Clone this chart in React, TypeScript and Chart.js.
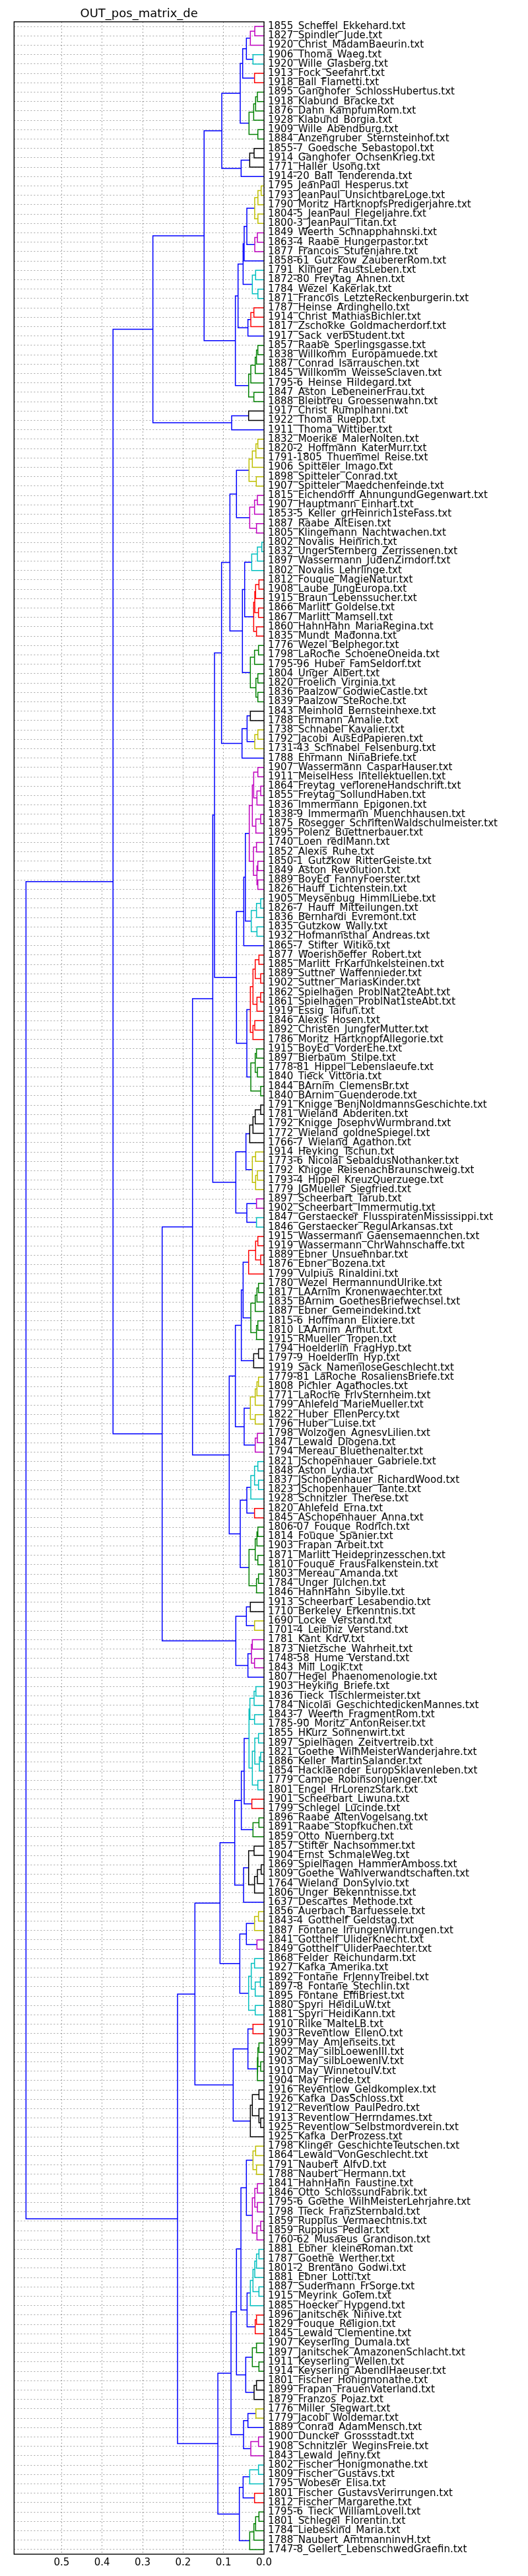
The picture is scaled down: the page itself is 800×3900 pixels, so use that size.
import React, { useEffect, useRef } from "react";
import { Chart, registerables } from "chart.js";

Chart.register(...registerables);

const chartTitle = "OUT_pos_matrix_de";

// leaves, top to bottom
const leafLabels: string[] = [
  "1855_Scheffel_Ekkehard.txt",
  "1827_Spindler_Jude.txt",
  "1920_Christ_MadamBaeurin.txt",
  "1906_Thoma_Waeg.txt",
  "1920_Wille_Glasberg.txt",
  "1913_Fock_Seefahrt.txt",
  "1918_Ball_Flametti.txt",
  "1895_Ganghofer_SchlossHubertus.txt",
  "1918_Klabund_Bracke.txt",
  "1876_Dahn_KampfumRom.txt",
  "1928_Klabund_Borgia.txt",
  "1909_Wille_Abendburg.txt",
  "1884_Anzengruber_Sternsteinhof.txt",
  "1855-7_Goedsche_Sebastopol.txt",
  "1914_Ganghofer_OchsenKrieg.txt",
  "1771_Haller_Usong.txt",
  "1914-20_Ball_Tenderenda.txt",
  "1795_JeanPaul_Hesperus.txt",
  "1793_JeanPaul_UnsichtbareLoge.txt",
  "1790_Moritz_HartknopfsPredigerjahre.txt",
  "1804-5_JeanPaul_Flegeljahre.txt",
  "1800-3_JeanPaul_Titan.txt",
  "1849_Weerth_Schnapphahnski.txt",
  "1863-4_Raabe_Hungerpastor.txt",
  "1877_Francois_Stufenjahre.txt",
  "1858-61_Gutzkow_ZaubererRom.txt",
  "1791_Klinger_FaustsLeben.txt",
  "1872-80_Freytag_Ahnen.txt",
  "1784_Wezel_Kakerlak.txt",
  "1871_Francois_LetzteReckenburgerin.txt",
  "1787_Heinse_Ardinghello.txt",
  "1914_Christ_MathiasBichler.txt",
  "1817_Zschokke_Goldmacherdorf.txt",
  "1917_Sack_verbStudent.txt",
  "1857_Raabe_Sperlingsgasse.txt",
  "1838_Willkomm_Europamuede.txt",
  "1887_Conrad_Isarrauschen.txt",
  "1845_Willkomm_WeisseSclaven.txt",
  "1795-6_Heinse_Hildegard.txt",
  "1847_Aston_LebeneinerFrau.txt",
  "1888_Bleibtreu_Groessenwahn.txt",
  "1917_Christ_Rumplhanni.txt",
  "1922_Thoma_Ruepp.txt",
  "1911_Thoma_Wittiber.txt",
  "1832_Moerike_MalerNolten.txt",
  "1820-2_Hoffmann_KaterMurr.txt",
  "1791-1805_Thuemmel_Reise.txt",
  "1906_Spitteler_Imago.txt",
  "1898_Spitteler_Conrad.txt",
  "1907_Spitteler_Maedchenfeinde.txt",
  "1815_Eichendorff_AhnungundGegenwart.txt",
  "1907_Hauptmann_Einhart.txt",
  "1853-5_Keller_grHeinrich1steFass.txt",
  "1887_Raabe_AltEisen.txt",
  "1805_Klingemann_Nachtwachen.txt",
  "1802_Novalis_Heinrich.txt",
  "1832_UngerSternberg_Zerrissenen.txt",
  "1897_Wassermann_JudenZirndorf.txt",
  "1802_Novalis_Lehrlinge.txt",
  "1812_Fouque_MagieNatur.txt",
  "1908_Laube_JungEuropa.txt",
  "1915_Braun_Lebenssucher.txt",
  "1866_Marlitt_Goldelse.txt",
  "1867_Marlitt_Mamsell.txt",
  "1860_HahnHahn_MariaRegina.txt",
  "1835_Mundt_Madonna.txt",
  "1776_Wezel_Belphegor.txt",
  "1798_LaRoche_SchoeneOneida.txt",
  "1795-96_Huber_FamSeldorf.txt",
  "1804_Unger_Albert.txt",
  "1820_Froelich_Virginia.txt",
  "1836_Paalzow_GodwieCastle.txt",
  "1839_Paalzow_SteRoche.txt",
  "1843_Meinhold_Bernsteinhexe.txt",
  "1788_Ehrmann_Amalie.txt",
  "1738_Schnabel_Kavalier.txt",
  "1792_Jacobi_AusEdPapieren.txt",
  "1731-43_Schnabel_Felsenburg.txt",
  "1788_Ehrmann_NinaBriefe.txt",
  "1907_Wassermann_CasparHauser.txt",
  "1911_MeiselHess_Intellektuellen.txt",
  "1864_Freytag_verloreneHandschrift.txt",
  "1855_Freytag_SollundHaben.txt",
  "1836_Immermann_Epigonen.txt",
  "1838-9_Immermann_Muenchhausen.txt",
  "1875_Rosegger_SchriftenWaldschulmeister.txt",
  "1895_Polenz_Buettnerbauer.txt",
  "1740_Loen_redlMann.txt",
  "1852_Alexis_Ruhe.txt",
  "1850-1_Gutzkow_RitterGeiste.txt",
  "1849_Aston_Revolution.txt",
  "1889_BoyEd_FannyFoerster.txt",
  "1826_Hauff_Lichtenstein.txt",
  "1905_Meysenbug_HimmlLiebe.txt",
  "1826-7_Hauff_Mitteilungen.txt",
  "1836_Bernhardi_Evremont.txt",
  "1835_Gutzkow_Wally.txt",
  "1932_Hofmannsthal_Andreas.txt",
  "1865-7_Stifter_Witiko.txt",
  "1877_Woerishoeffer_Robert.txt",
  "1885_Marlitt_FrKarfunkelsteinen.txt",
  "1889_Suttner_Waffennieder.txt",
  "1902_Suttner_MariasKinder.txt",
  "1862_Spielhagen_ProblNat2teAbt.txt",
  "1861_Spielhagen_ProblNat1steAbt.txt",
  "1919_Essig_Taifun.txt",
  "1846_Alexis_Hosen.txt",
  "1892_Christen_JungferMutter.txt",
  "1786_Moritz_HartknopfAllegorie.txt",
  "1915_BoyEd_VorderEhe.txt",
  "1897_Bierbaum_Stilpe.txt",
  "1778-81_Hippel_Lebenslaeufe.txt",
  "1840_Tieck_Vittoria.txt",
  "1844_BArnim_ClemensBr.txt",
  "1840_BArnim_Guenderode.txt",
  "1791_Knigge_BenjNoldmannsGeschichte.txt",
  "1781_Wieland_Abderiten.txt",
  "1792_Knigge_JosephvWurmbrand.txt",
  "1772_Wieland_goldneSpiegel.txt",
  "1766-7_Wieland_Agathon.txt",
  "1914_Heyking_Tschun.txt",
  "1773-6_Nicolai_SebaldusNothanker.txt",
  "1792_Knigge_ReisenachBraunschweig.txt",
  "1793-4_Hippel_KreuzQuerzuege.txt",
  "1779_JGMueller_Siegfried.txt",
  "1897_Scheerbart_Tarub.txt",
  "1902_Scheerbart_Immermutig.txt",
  "1847_Gerstaecker_FlusspiratenMississippi.txt",
  "1846_Gerstaecker_RegulArkansas.txt",
  "1915_Wassermann_Gaensemaennchen.txt",
  "1919_Wassermann_ChrWahnschaffe.txt",
  "1889_Ebner_Unsuehnbar.txt",
  "1876_Ebner_Bozena.txt",
  "1799_Vulpius_Rinaldini.txt",
  "1780_Wezel_HermannundUlrike.txt",
  "1817_LAArnim_Kronenwaechter.txt",
  "1835_BArnim_GoethesBriefwechsel.txt",
  "1887_Ebner_Gemeindekind.txt",
  "1815-6_Hoffmann_Elixiere.txt",
  "1810_LAArnim_Armut.txt",
  "1915_RMueller_Tropen.txt",
  "1794_Hoelderlin_FragHyp.txt",
  "1797-9_Hoelderlin_Hyp.txt",
  "1919_Sack_NamenloseGeschlecht.txt",
  "1779-81_LaRoche_RosaliensBriefe.txt",
  "1808_Pichler_Agathocles.txt",
  "1771_LaRoche_FrlvSternheim.txt",
  "1799_Ahlefeld_MarieMueller.txt",
  "1822_Huber_EllenPercy.txt",
  "1796_Huber_Luise.txt",
  "1798_Wolzogen_AgnesvLilien.txt",
  "1847_Lewald_Diogena.txt",
  "1794_Mereau_Bluethenalter.txt",
  "1821_JSchopenhauer_Gabriele.txt",
  "1848_Aston_Lydia.txt",
  "1837_JSchopenhauer_RichardWood.txt",
  "1823_JSchopenhauer_Tante.txt",
  "1928_Schnitzler_Therese.txt",
  "1820_Ahlefeld_Erna.txt",
  "1845_ASchopenhauer_Anna.txt",
  "1806-07_Fouque_Rodrich.txt",
  "1814_Fouque_Spanier.txt",
  "1903_Frapan_Arbeit.txt",
  "1871_Marlitt_Heideprinzesschen.txt",
  "1810_Fouque_FrausFalkenstein.txt",
  "1803_Mereau_Amanda.txt",
  "1784_Unger_Julchen.txt",
  "1846_HahnHahn_Sibylle.txt",
  "1913_Scheerbart_Lesabendio.txt",
  "1710_Berkeley_Erkenntnis.txt",
  "1690_Locke_Verstand.txt",
  "1701-4_Leibniz_Verstand.txt",
  "1781_Kant_KdrV.txt",
  "1873_Nietzsche_Wahrheit.txt",
  "1748-58_Hume_Verstand.txt",
  "1843_Mill_Logik.txt",
  "1807_Hegel_Phaenomenologie.txt",
  "1903_Heyking_Briefe.txt",
  "1836_Tieck_Tischlermeister.txt",
  "1784_Nicolai_GeschichtedickenMannes.txt",
  "1843-7_Weerth_FragmentRom.txt",
  "1785-90_Moritz_AntonReiser.txt",
  "1855_HKurz_Sonnenwirt.txt",
  "1897_Spielhagen_Zeitvertreib.txt",
  "1821_Goethe_WilhMeisterWanderjahre.txt",
  "1886_Keller_MartinSalander.txt",
  "1854_Hacklaender_EuropSklavenleben.txt",
  "1779_Campe_RobinsonJuenger.txt",
  "1801_Engel_HrLorenzStark.txt",
  "1901_Scheerbart_Liwuna.txt",
  "1799_Schlegel_Lucinde.txt",
  "1896_Raabe_AltenVogelsang.txt",
  "1891_Raabe_Stopfkuchen.txt",
  "1859_Otto_Nuernberg.txt",
  "1857_Stifter_Nachsommer.txt",
  "1904_Ernst_SchmaleWeg.txt",
  "1869_Spielhagen_HammerAmboss.txt",
  "1809_Goethe_Wahlverwandtschaften.txt",
  "1764_Wieland_DonSylvio.txt",
  "1806_Unger_Bekenntnisse.txt",
  "1637_Descartes_Methode.txt",
  "1856_Auerbach_Barfuessele.txt",
  "1843-4_Gotthelf_Geldstag.txt",
  "1887_Fontane_IrrungenWirrungen.txt",
  "1841_Gotthelf_UliderKnecht.txt",
  "1849_Gotthelf_UliderPaechter.txt",
  "1868_Felder_Reichundarm.txt",
  "1927_Kafka_Amerika.txt",
  "1892_Fontane_FrJennyTreibel.txt",
  "1897-8_Fontane_Stechlin.txt",
  "1895_Fontane_EffiBriest.txt",
  "1880_Spyri_HeidiLuW.txt",
  "1881_Spyri_HeidiKann.txt",
  "1910_Rilke_MalteLB.txt",
  "1903_Reventlow_EllenO.txt",
  "1899_May_AmJenseits.txt",
  "1902_May_silbLoewenIII.txt",
  "1903_May_silbLoewenIV.txt",
  "1910_May_WinnetouIV.txt",
  "1904_May_Friede.txt",
  "1916_Reventlow_Geldkomplex.txt",
  "1926_Kafka_DasSchloss.txt",
  "1912_Reventlow_PaulPedro.txt",
  "1913_Reventlow_Herrndames.txt",
  "1925_Reventlow_Selbstmordverein.txt",
  "1925_Kafka_DerProzess.txt",
  "1798_Klinger_GeschichteTeutschen.txt",
  "1864_Lewald_VonGeschlecht.txt",
  "1791_Naubert_AlfvD.txt",
  "1788_Naubert_Hermann.txt",
  "1841_HahnHahn_Faustine.txt",
  "1846_Otto_SchlossundFabrik.txt",
  "1795-6_Goethe_WilhMeisterLehrjahre.txt",
  "1798_Tieck_FranzSternbald.txt",
  "1859_Ruppius_Vermaechtnis.txt",
  "1859_Ruppius_Pedlar.txt",
  "1760-62_Musaeus_Grandison.txt",
  "1881_Ebner_kleineRoman.txt",
  "1787_Goethe_Werther.txt",
  "1801-2_Brentano_Godwi.txt",
  "1881_Ebner_Lotti.txt",
  "1887_Sudermann_FrSorge.txt",
  "1915_Meyrink_Golem.txt",
  "1885_Hoecker_Hypgend.txt",
  "1896_Janitschek_Ninive.txt",
  "1829_Fouque_Religion.txt",
  "1845_Lewald_Clementine.txt",
  "1907_Keyserling_Dumala.txt",
  "1897_Janitschek_AmazonenSchlacht.txt",
  "1911_Keyserling_Wellen.txt",
  "1914_Keyserling_AbendlHaeuser.txt",
  "1801_Fischer_Honigmonathe.txt",
  "1899_Frapan_FrauenVaterland.txt",
  "1879_Franzos_Pojaz.txt",
  "1776_Miller_Siegwart.txt",
  "1779_Jacobi_Woldemar.txt",
  "1889_Conrad_AdamMensch.txt",
  "1900_Duncker_Grossstadt.txt",
  "1908_Schnitzler_WeginsFreie.txt",
  "1843_Lewald_Jenny.txt",
  "1802_Fischer_Honigmonathe.txt",
  "1809_Fischer_Gustavs.txt",
  "1795_Wobeser_Elisa.txt",
  "1801_Fischer_GustavsVerirrungen.txt",
  "1812_Fischer_Margarethe.txt",
  "1795-6_Tieck_WilliamLovell.txt",
  "1801_Schlegel_Florentin.txt",
  "1784_Liebeskind_Maria.txt",
  "1788_Naubert_AmtmanninvH.txt",
  "1747-8_Gellert_LebenschwedGraefin.txt",
];

// merge height between each pair of neighbouring leaves (top to bottom)
const mergeGaps: number[] = [
  0.0228, 0.0337, 0.0435, 0.0272, 0.0527, 0.0234, 0.0587, 0.0163, 0.0207, 0.0255,
  0.037, 0.0152, 0.1043, 0.0245, 0.0353, 0.0565, 0.148, 0.007, 0.015, 0.023,
  0.015, 0.0424, 0.0163, 0.0228, 0.049, 0.0516, 0.0207, 0.0288, 0.015, 0.0641,
  0.025, 0.0326, 0.0397, 0.0707, 0.0152, 0.0185, 0.0217, 0.0326, 0.038, 0.025,
  0.2745, 0.038, 0.0799, 0.373, 0.0152, 0.02, 0.0288, 0.037, 0.019, 0.068,
  0.0163, 0.0234, 0.0353, 0.0185, 0.0842, 0.0054, 0.0163, 0.0304, 0.0478, 0.0125,
  0.0207, 0.0228, 0.0136, 0.0255, 0.0185, 0.0533, 0.0136, 0.0234, 0.0337, 0.0152,
  0.02, 0.0152, 0.1049, 0.0337, 0.0418, 0.0152, 0.0228, 0.0543, 0.1223, 0.0152,
  0.0255, 0.0082, 0.0174, 0.0288, 0.0082, 0.0201, 0.0364, 0.0185, 0.026, 0.0152,
  0.0174, 0.0152, 0.046, 0.0082, 0.0185, 0.0315, 0.0174, 0.05, 0.068, 0.0125,
  0.0217, 0.0082, 0.0272, 0.0082, 0.0174, 0.0337, 0.0228, 0.0272, 0.0424, 0.0185,
  0.0217, 0.0163, 0.0326, 0.0082, 0.1266, 0.0082, 0.0217, 0.0272, 0.0353, 0.0446,
  0.0207, 0.0288, 0.0163, 0.0207, 0.0696, 0.0185, 0.0424, 0.0185, 0.1766, 0.0152,
  0.0207, 0.0082, 0.038, 0.0516, 0.0136, 0.0174, 0.0217, 0.0326, 0.0152, 0.0185,
  0.056, 0.0136, 0.0255, 0.0707, 0.0136, 0.0174, 0.0217, 0.0337, 0.0217, 0.049,
  0.0163, 0.0217, 0.0859, 0.0152, 0.0234, 0.0136, 0.0326, 0.0424, 0.0234, 0.0587,
  0.0152, 0.0174, 0.0217, 0.0152, 0.037, 0.0136, 0.0185, 0.2516, 0.0337, 0.0435,
  0.0234, 0.0696, 0.0288, 0.031, 0.0234, 0.0397, 0.588, 0.02, 0.0245, 0.0348,
  0.0234, 0.037, 0.0136, 0.0228, 0.0082, 0.0114, 0.0288, 0.0152, 0.049, 0.03,
  0.056, 0.0125, 0.0272, 0.0723, 0.0245, 0.038, 0.007, 0.0163, 0.0234, 0.0505,
  0.1087, 0.0136, 0.0234, 0.0435, 0.0174, 0.0598, 0.0234, 0.0315, 0.009, 0.0217,
  0.038, 0.0217, 0.1707, 0.0272, 0.0397, 0.0125, 0.0152, 0.0082, 0.0163, 0.0761,
  0.0125, 0.0288, 0.0125, 0.0082, 0.0337, 0.2136, 0.0207, 0.0272, 0.0185, 0.0435,
  0.0163, 0.0228, 0.0163, 0.0288, 0.0082, 0.0174, 0.057, 0.0125, 0.0185, 0.0228,
  0.0272, 0.0125, 0.0337, 0.0418, 0.0185, 0.0217, 0.068, 0.0185, 0.0288, 0.0125,
  0.0451, 0.0185, 0.0245, 0.0815, 0.02, 0.0397, 0.0505, 0.0136, 0.0326, 0.114,
  0.0136, 0.0353, 0.0516, 0.0234, 0.0609, 0.0125, 0.0207, 0.025, 0.0353,
];

const xTickValues: number[] = [0, 0.1, 0.2, 0.3, 0.4, 0.5];
const colorThreshold = 0.039;
const clusterPalette: string[] = ["#008000", "#ff0000", "#00bfbf", "#bf00bf", "#bfbf00", "#000000"];
const aboveThresholdColor = "#0000ff";

type TreeNode = { y: number; h: number; a?: TreeNode; b?: TreeNode };

function buildTree(l: number, r: number): TreeNode {
  if (l === r) return { y: 5 + 10 * l, h: 0 };
  let k = l;
  for (let i = l; i < r; i++) if (mergeGaps[i] > mergeGaps[k]) k = i;
  const a = buildTree(l, k);
  const b = buildTree(k + 1, r);
  return { y: (a.y + b.y) / 2, h: mergeGaps[k], a, b };
}

type Link = { pts: { x: number; y: number }[]; color: string };

function collectLinks(root: TreeNode): Link[] {
  const links: Link[] = [];
  let ci = 0;
  const visit = (n: TreeNode, inherited: string | null) => {
    if (!n.a || !n.b) return;
    let color = inherited;
    if (color === null && n.h < colorThreshold) {
      color = clusterPalette[ci % clusterPalette.length];
      ci++;
    }
    const c = n.h >= colorThreshold ? aboveThresholdColor : (color as string);
    visit(n.b, n.h >= colorThreshold ? null : color);
    visit(n.a, n.h >= colorThreshold ? null : color);
    links.push({
      pts: [
        { x: n.a.h, y: n.a.y },
        { x: n.h, y: n.a.y },
        { x: n.h, y: n.b.y },
        { x: n.b.h, y: n.b.y },
      ],
      color: c,
    });
  };
  visit(root, null);
  return links;
}

export default function App() {
  const ref = useRef<HTMLCanvasElement | null>(null);
  useEffect(() => {
    if (!ref.current) return;
    const N = leafLabels.length;
    const root = buildTree(0, N - 1);
    const links = collectLinks(root);
    const xMax = root.h * 1.05;
    const pxPerUnit = 613.3;
    const leftPad = 400 - xMax * pxPerUnit;
    const font = { family: "DejaVu Sans", size: 15 };

    const framePlugin = {
      id: "frameTitle",
      afterDraw(chart: any) {
        const { ctx, chartArea } = chart;
        ctx.save();
        ctx.strokeStyle = "#000";
        ctx.lineWidth = 1.4;
        ctx.strokeRect(chartArea.left, chartArea.top, chartArea.right - chartArea.left, chartArea.bottom - chartArea.top);
        ctx.fillStyle = "#000";
        ctx.font = "18px 'DejaVu Sans'";
        ctx.textAlign = "center";
        ctx.textBaseline = "alphabetic";
        ctx.fillText(chartTitle, (chartArea.left + chartArea.right) / 2, 26);
        ctx.restore();
      },
    };

    const chart = new Chart(ref.current, {
      type: "scatter",
      data: {
        datasets: links.map((lk) => ({
          data: lk.pts,
          showLine: true,
          borderColor: lk.color,
          backgroundColor: lk.color,
          borderWidth: 1.5,
          pointRadius: 0,
          fill: false,
          tension: 0,
        })),
      },
      options: {
        animation: false,
        responsive: false,
        events: [],
        layout: { padding: { left: leftPad, top: 33, right: 0, bottom: 0 } },
        plugins: { legend: { display: false }, tooltip: { enabled: false }, title: { display: false } },
        scales: {
          x: {
            type: "linear",
            reverse: true,
            min: 0,
            max: xMax,
            afterBuildTicks: (s: any) => {
              s.ticks = xTickValues.map((v) => ({ value: v }));
            },
            afterFit: (s: any) => {
              s.height = 33;
            },
            ticks: {
              font,
              color: "#000",
              padding: 4,
              maxRotation: 0,
              callback: (v: any) => Number(v).toFixed(1),
            },
            grid: { color: "rgba(0,0,0,0.35)", lineWidth: 1, drawTicks: false },
            border: { display: false, dash: [2, 3] },
          },
          y: {
            type: "linear",
            position: "right",
            reverse: true,
            min: 0,
            max: 10 * N,
            afterBuildTicks: (s: any) => {
              s.ticks = leafLabels.map((_, i) => ({ value: 5 + 10 * i }));
            },
            afterFit: (s: any) => {
              s.width = 400;
            },
            ticks: {
              autoSkip: false,
              font,
              color: "#000",
              padding: 6,
              callback: (_v: any, i: number) => leafLabels[i],
            },
            grid: { color: "rgba(0,0,0,0.35)", lineWidth: 1, drawTicks: false },
            border: { display: false, dash: [2, 3] },
          },
        },
      } as any,
      plugins: [framePlugin],
    });
    return () => chart.destroy();
  }, []);

  return (
    <div style={{ position: "absolute", left: 0, top: 0, width: 800, height: 3900, background: "#fff" }}>
      <canvas ref={ref} width={800} height={3900} style={{ width: 800, height: 3900, display: "block" }} />
    </div>
  );
}
